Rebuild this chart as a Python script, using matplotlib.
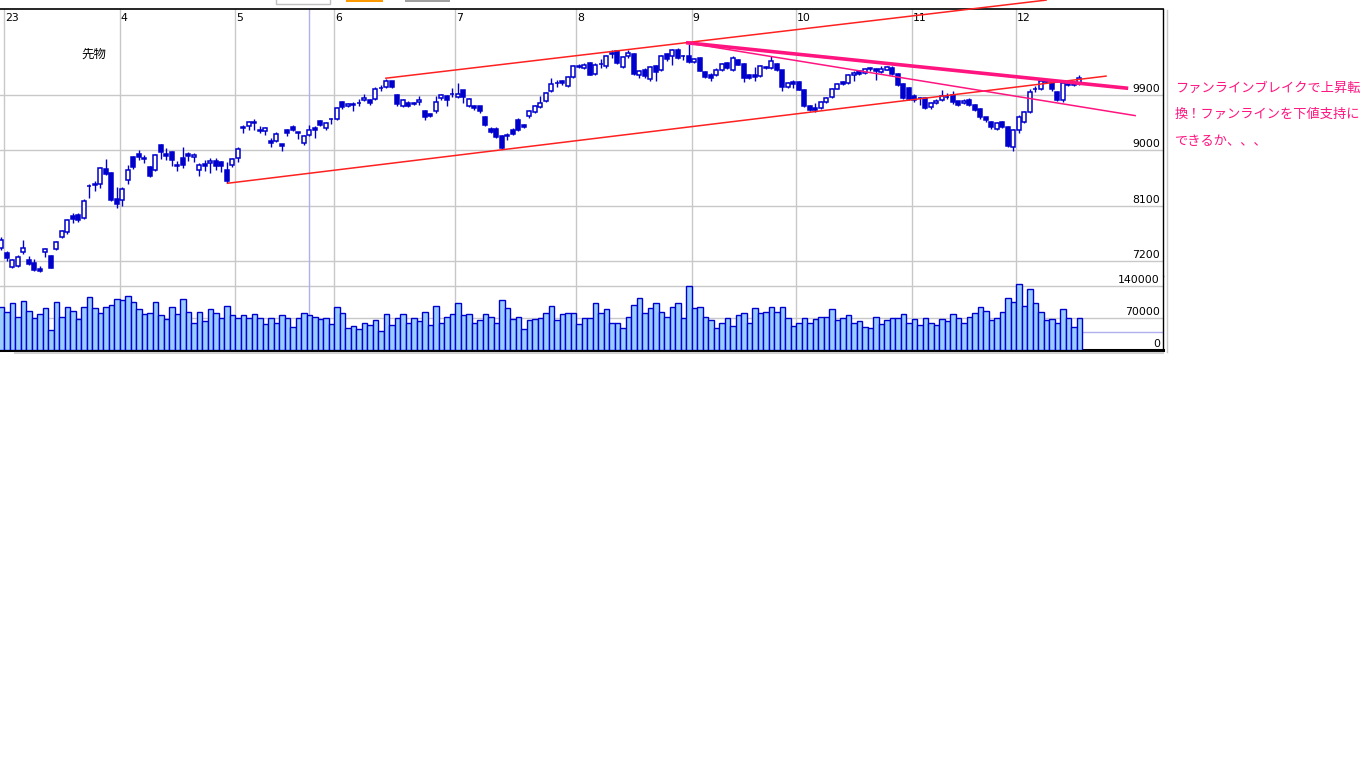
import matplotlib
matplotlib.use("Agg")
import matplotlib.pyplot as plt
import matplotlib.transforms as mtransforms
from matplotlib.lines import Line2D
from matplotlib.patches import Rectangle
import numpy as np

plt.rcParams['font.family'] = ['DejaVu Sans']

# daily candles (index 0 = last day of previous month)
opens = [7419, 7326, 7098, 7120, 7342, 7212, 7163, 7071, 7342, 7283,
         7391, 7587, 7679, 7934, 7945, 7896, 8412, 8456, 8450, 8694,
         8635, 8211, 8195, 8515, 8890, 8944, 8879, 8727, 8678, 9091,
         8944, 8972, 8760, 8874, 8933, 8885, 8678, 8770, 8798, 8830,
         8814, 8684, 8754, 8874, 9380, 9395, 9460, 9330, 9308, 9145,
         9145, 9107, 9330, 9384, 9298, 9113, 9243, 9363, 9471, 9357,
         9509, 9509, 9786, 9716, 9745, 9765, 9813, 9820, 9840, 10010,
         10030, 10123, 9905, 9716, 9770, 9770, 9792, 9645, 9591, 9634,
         9851, 9889, 9916, 9867, 9976, 9716, 9726, 9716, 9536, 9352,
         9352, 9227, 9254, 9335, 9498, 9417, 9553, 9623, 9705, 9797,
         9960, 10090, 10123, 10041, 10188, 10360, 10340, 10421, 10248, 10400,
         10367, 10570, 10612, 10351, 10530, 10573, 10220, 10313, 10161, 10378,
         10302, 10568, 10530, 10638, 10530, 10530, 10438, 10503, 10275, 10231,
         10231, 10313, 10421, 10313, 10476, 10405, 10221, 10221, 10204, 10340,
         10340, 10411, 10313, 10030, 10112, 10112, 9987, 9726, 9688, 9688,
         9781, 9862, 10003, 10112, 10096, 10220, 10297, 10259, 10329, 10329,
         10275, 10313, 10340, 10242, 10079, 10014, 9889, 9845, 9851, 9705,
         9770, 9824, 9862, 9906, 9797, 9770, 9824, 9743, 9677, 9542,
         9460, 9346, 9460, 9379, 9047, 9335, 9460, 9623, 9993, 9998,
         10135, 10096, 9949, 9813, 10065, 10068, 10085]
highs = [7587, 7364, 7225, 7299, 7543, 7288, 7234, 7120, 7407, 7299,
         7527, 7706, 7890, 7988, 7978, 8206, 8450, 8505, 8722, 8863,
         8640, 8396, 8407, 8754, 8901, 9009, 8917, 8749, 8944, 9107,
         9037, 8988, 8830, 9053, 8972, 8955, 8793, 8835, 8874, 8874,
         8830, 8803, 8874, 9053, 9417, 9482, 9515, 9395, 9379, 9200,
         9292, 9107, 9352, 9417, 9303, 9243, 9417, 9390, 9498, 9460,
         9520, 9700, 9808, 9770, 9790, 9830, 9916, 9840, 10030, 10068,
         10166, 10134, 9916, 9840, 9797, 9780, 9878, 9661, 9607, 9878,
         9916, 9905, 10014, 10096, 9987, 9851, 9743, 9726, 9553, 9379,
         9379, 9254, 9281, 9363, 9525, 9428, 9661, 9743, 9878, 9949,
         10177, 10150, 10150, 10215, 10383, 10405, 10421, 10438, 10421, 10492,
         10557, 10638, 10638, 10541, 10638, 10584, 10313, 10340, 10367, 10394,
         10557, 10584, 10650, 10666, 10557, 10731, 10510, 10520, 10297, 10259,
         10340, 10421, 10440, 10530, 10490, 10421, 10240, 10356, 10380, 10370,
         10530, 10421, 10313, 10110, 10150, 10130, 9998, 9740, 9770, 9800,
         9870, 10020, 10100, 10130, 10240, 10297, 10313, 10345, 10351, 10340,
         10367, 10372, 10367, 10250, 10090, 10030, 9910, 9870, 9860, 9790,
         9830, 9987, 9930, 9960, 9810, 9840, 9850, 9760, 9690, 9550,
         9470, 9460, 9475, 9390, 9350, 9570, 9640, 9990, 10040, 10150,
         10160, 10110, 9960, 10110, 10090, 10100, 10220]
lows = [7380, 7206, 7080, 7098, 7315, 7136, 7039, 7017, 7272, 7082,
        7380, 7570, 7635, 7815, 7831, 7880, 8222, 8331, 8385, 8602,
        8184, 8060, 8087, 8450, 8700, 8847, 8793, 8559, 8662, 8858,
        8841, 8749, 8657, 8711, 8830, 8803, 8585, 8667, 8630, 8684,
        8640, 8466, 8732, 8803, 9275, 9335, 9325, 9275, 9254, 9047,
        9134, 8982, 9238, 9308, 9189, 9091, 9226, 9200, 9390, 9335,
        9428, 9498, 9678, 9700, 9645, 9720, 9797, 9740, 9824, 9960,
        10020, 10014, 9726, 9699, 9705, 9740, 9743, 9498, 9542, 9607,
        9824, 9726, 9868, 9851, 9770, 9699, 9661, 9607, 9400, 9281,
        9200, 9020, 9172, 9254, 9308, 9357, 9526, 9607, 9688, 9781,
        9949, 10030, 10068, 10025, 10177, 10340, 10329, 10220, 10231, 10340,
        10340, 10503, 10411, 10340, 10503, 10231, 10177, 10177, 10123, 10123,
        10286, 10449, 10383, 10492, 10476, 10421, 10420, 10290, 10177, 10123,
        10204, 10286, 10320, 10297, 10380, 10112, 10160, 10123, 10190, 10320,
        10330, 10290, 9960, 10010, 10014, 9976, 9705, 9645, 9623, 9670,
        9765, 9850, 9990, 10060, 10080, 10123, 10230, 10245, 10286, 10150,
        10260, 10300, 10231, 10050, 9830, 9820, 9790, 9743, 9670, 9680,
        9750, 9797, 9840, 9760, 9716, 9750, 9720, 9640, 9510, 9460,
        9350, 9330, 9360, 9050, 8993, 9290, 9440, 9610, 9950, 9980,
        10095, 9970, 9800, 9790, 10040, 10050, 10060]
closes = [7549, 7244, 7212, 7261, 7407, 7158, 7055, 7033, 7391, 7082,
          7505, 7685, 7863, 7890, 7869, 8179, 8415, 8429, 8711, 8619,
          8195, 8125, 8374, 8678, 8727, 8890, 8858, 8575, 8923, 8972,
          8906, 8836, 8738, 8754, 8911, 8923, 8760, 8738, 8830, 8749,
          8749, 8494, 8858, 9020, 9360, 9455, 9438, 9308, 9363, 9113,
          9270, 9064, 9286, 9325, 9286, 9232, 9330, 9325, 9417, 9444,
          9515, 9694, 9700, 9754, 9755, 9775, 9851, 9765, 9998, 10015,
          10134, 10030, 9759, 9824, 9726, 9754, 9824, 9542, 9558, 9792,
          9900, 9813, 9921, 9916, 9867, 9840, 9683, 9634, 9406, 9297,
          9210, 9031, 9227, 9270, 9325, 9374, 9645, 9715, 9764, 9933,
          10085, 10096, 10096, 10193, 10367, 10370, 10383, 10231, 10383, 10410,
          10535, 10575, 10421, 10519, 10584, 10242, 10297, 10204, 10356, 10269,
          10530, 10487, 10628, 10503, 10535, 10438, 10492, 10297, 10193, 10177,
          10313, 10405, 10340, 10503, 10394, 10177, 10177, 10193, 10367, 10356,
          10460, 10302, 10030, 10096, 10085, 9987, 9716, 9661, 9661, 9781,
          9851, 10003, 10079, 10079, 10226, 10259, 10242, 10329, 10335, 10297,
          10329, 10356, 10242, 10068, 9851, 9840, 9813, 9851, 9688, 9770,
          9808, 9889, 9868, 9781, 9732, 9808, 9732, 9661, 9536, 9487,
          9374, 9444, 9374, 9064, 9335, 9542, 9623, 9949, 10003, 10134,
          10115, 9998, 9813, 10096, 10070, 10085, 10177]
volumes = [95000, 84000, 102000, 73000, 108000, 86000, 69000, 78000, 91000, 43000,
           106000, 73000, 93000, 86000, 67000, 93000, 117000, 91000, 82000, 93000,
           99000, 112000, 110000, 119000, 104000, 89000, 78000, 80000, 104000, 76000,
           67000, 95000, 78000, 112000, 84000, 60000, 84000, 63000, 89000, 80000,
           71000, 97000, 76000, 71000, 76000, 71000, 78000, 69000, 56000, 71000,
           58000, 76000, 69000, 50000, 69000, 82000, 76000, 73000, 67000, 69000,
           56000, 93000, 80000, 48000, 52000, 45000, 58000, 54000, 65000, 41000,
           78000, 54000, 71000, 78000, 58000, 69000, 63000, 84000, 54000, 97000,
           58000, 73000, 78000, 102000, 76000, 78000, 58000, 65000, 78000, 73000,
           58000, 110000, 91000, 67000, 73000, 45000, 65000, 67000, 71000, 80000,
           97000, 65000, 78000, 80000, 82000, 56000, 69000, 69000, 102000, 82000,
           89000, 60000, 60000, 48000, 73000, 99000, 114000, 82000, 91000, 102000,
           84000, 73000, 95000, 102000, 69000, 140000, 91000, 95000, 73000, 65000,
           48000, 58000, 71000, 52000, 76000, 82000, 60000, 91000, 80000, 84000,
           93000, 84000, 95000, 71000, 52000, 58000, 71000, 58000, 67000, 73000,
           73000, 89000, 65000, 69000, 76000, 60000, 63000, 50000, 48000, 73000,
           56000, 65000, 71000, 69000, 78000, 60000, 67000, 54000, 71000, 60000,
           54000, 67000, 63000, 78000, 71000, 60000, 73000, 80000, 95000, 86000,
           65000, 69000, 84000, 114000, 104000, 145000, 97000, 134000, 102000, 84000,
           65000, 67000, 58000, 89000, 69000, 50000, 69000]

month_labels = ["23", "4", "5", "6", "7", "8", "9", "10", "11", "12"]
month_starts = [1, 22, 43, 61, 83, 105, 126, 145, 166, 185]
price_ticks = [7200, 8100, 9000, 9900]
volume_ticks = [0, 70000, 140000]

# hand-drawn lines as (bar index, price)
channel_low = [(41.0, 8463), (201.0, 10209)]
channel_high = [(69.8, 10172), (190.1, 11445)]
fan_thick = [(124.5, 10751), (204.9, 10009)]
fan_thin = [(124.5, 10751), (206.3, 9563)]
cursor_bar = 56
cursor_volume = 39000

title_text = "先物"
note_lines = ["ファンラインブレイクで上昇転", "換！ファンラインを下値支持に", "できるか、、、"]

W, H = 1366, 768
fig = plt.figure(figsize=(W / 100, H / 100), dpi=100)
fig.patch.set_facecolor('white')


def box(x0, y0, x1, y1):
    # pixel box (from top-left) -> figure fraction rect
    return [x0 / W, 1 - y1 / H, (x1 - x0) / W, (y1 - y0) / H]


ax = fig.add_axes(box(0, 9, 1163, 276))
axv = fig.add_axes(box(0, 276, 1163, 350), sharex=ax)

blue = '#0000cc'
grid = '#c8c8c8'
cursor = '#b0b0ee'
pink = '#ff1480'
red = '#ff2020'

n = len(opens)
idx = np.arange(n)
o, h, l, c = (np.array(v, dtype=float) for v in (opens, highs, lows, closes))
up = c >= o

ax.set_xlim(-1.25 / 5.5, (1163 - 1.25) / 5.5)
ax.set_ylim(6956, 11299)
axv.set_ylim(0, 161875)

for a in (ax, axv):
    a.set_xticks([])
    a.set_yticks([])
    a.set_facecolor('white')
    for m in month_starts:
        a.axvline(m - 0.5, color=grid, lw=1, zorder=0)
    a.axvline(cursor_bar, color=cursor, lw=1, zorder=1)

for p in price_ticks:
    ax.axhline(p, color=grid, lw=1, zorder=0)
for v in volume_ticks[1:]:
    axv.axhline(v, color=grid, lw=1, zorder=0)
axv.axhline(cursor_volume, color=cursor, lw=1, zorder=1)

# candles
ax.vlines(idx, l, h, color=blue, lw=1.0, zorder=3)
body_lo = np.minimum(o, c)
body_h = np.maximum(np.abs(c - o), 6)
ax.bar(idx[up], body_h[up], bottom=body_lo[up], width=0.8,
       facecolor='white', edgecolor=blue, lw=1.1, zorder=4)
ax.bar(idx[~up], body_h[~up], bottom=body_lo[~up], width=0.8,
       facecolor=blue, edgecolor=blue, lw=1.1, zorder=4)

# volume
axv.bar(idx, volumes, width=1.0, facecolor='#99ccff', edgecolor=blue, lw=1.0, zorder=3)

# trend / fan lines
for pts, col, lw, clip in [(channel_low, red, 1.1, True), (channel_high, red, 1.1, False),
                           (fan_thin, pink, 1.1, True), (fan_thick, pink, 2.6, True)]:
    xs, ys = zip(*pts)
    ax.plot(xs, ys, color=col, lw=lw, zorder=5, clip_on=clip, solid_capstyle='butt')

# spines
for s in ('left', 'bottom'):
    ax.spines[s].set_visible(False)
for s in ('left', 'top'):
    axv.spines[s].set_visible(False)
ax.spines['top'].set_linewidth(1.2)
ax.spines['right'].set_linewidth(1.0)
axv.spines['right'].set_linewidth(1.0)
axv.spines['bottom'].set_linewidth(2.2)

# month labels at the top
top_tr = mtransforms.blended_transform_factory(ax.transData, ax.transAxes)
for m, lab in zip(month_starts, month_labels):
    ax.text(m - 0.5, 0.968, lab, transform=mtransforms.offset_copy(top_tr, fig=fig, x=1, y=0, units='dots'),
            fontsize=7.8, va='center', ha='left', color='black')

# right hand scale labels
rp = mtransforms.blended_transform_factory(ax.transAxes, ax.transData)
for p in price_ticks:
    ax.text(1160 / 1163, p, str(p), transform=mtransforms.offset_copy(rp, fig=fig, x=0, y=1, units='dots'),
            fontsize=7.8, ha='right', va='bottom', color='black')
rv = mtransforms.blended_transform_factory(axv.transAxes, axv.transData)
for v in volume_ticks:
    axv.text(1160 / 1163, v, str(v), transform=mtransforms.offset_copy(rv, fig=fig, x=0, y=1, units='dots'),
             fontsize=7.8, ha='right', va='bottom', color='black', zorder=6)

cjk = ['Noto Sans CJK JP', 'DejaVu Sans']
fig.text(94 / W, 1 - 54 / H, title_text, family=cjk, fontsize=9, ha='center', va='center', color='black')
for k, line in enumerate(note_lines):
    fig.text(1175 / W, 1 - (88 + 26.5 * k) / H, line, family=cjk, fontsize=9.5,
             ha='left', va='center', color=pink)

# window chrome bits
fig.add_artist(Line2D([1167 / W, 1167 / W], [1 - 10 / H, 1 - 352 / H], color=grid, lw=1))
fig.add_artist(Line2D([15 / W, 1163 / W], [1 - 353 / H, 1 - 353 / H], color='#d0d0d0', lw=1.5))
fig.add_artist(Rectangle((276 / W, 1 - 4 / H), 54 / W, 6 / H, facecolor='white', edgecolor='#c0c0c0', lw=1))
fig.add_artist(Rectangle((346 / W, 1 - 2 / H), 37 / W, 3 / H, facecolor='#ff9900', edgecolor='none'))
fig.add_artist(Rectangle((405 / W, 1 - 1.5 / H), 45 / W, 2 / H, facecolor='#a0a0a0', edgecolor='none'))

fig.savefig('out.png', dpi=100)
